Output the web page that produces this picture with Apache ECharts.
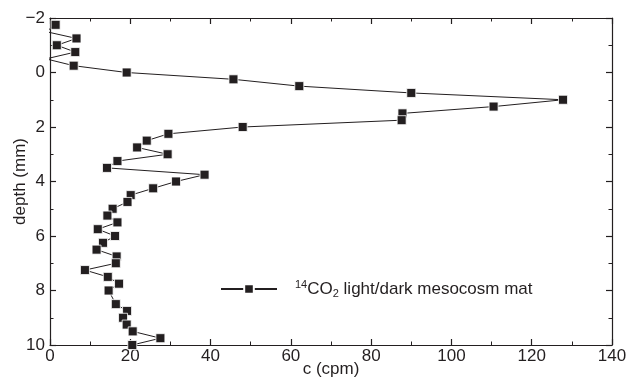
<!DOCTYPE html>
<html>
<head>
<meta charset="utf-8">
<script src="https://cdn.jsdelivr.net/npm/echarts@6/dist/echarts.min.js"></script>
<style>
  html, body { margin: 0; padding: 0; background: #fff; }
  #chart { width: 630px; height: 381px; }
</style>
</head>
<body>
<div id="chart"></div>
<script>
// depth profile, 0.25 mm steps (8.25 mm not measured)
const depth = [-1.75, -1.5, -1.25, -1.0, -0.75, -0.5, -0.25, 0, 0.25, 0.5, 0.75, 1.0, 1.25, 1.5, 1.75, 2.0,
  2.25, 2.5, 2.75, 3.0, 3.25, 3.5, 3.75, 4.0, 4.25, 4.5, 4.75, 5.0, 5.25, 5.5, 5.75, 6.0, 6.25, 6.5,
  6.75, 7.0, 7.25, 7.5, 7.75, 8.0, 8.5, 8.75, 9.0, 9.25, 9.5, 9.75, 10.0];
const cpm = [1.4, -1, 6.6, 1.7, 6.3, -1, 5.9, 19.1, 45.7, 62.1, 90.0, 127.8, 110.5, 87.8, 87.6, 48.0,
  29.5, 24.1, 21.7, 29.3, 16.8, 14.2, 38.5, 31.4, 25.7, 20.1, 19.3, 15.6, 14.3, 16.8, 11.9, 16.2, 13.2, 11.6,
  16.6, 16.4, 8.7, 14.4, 17.2, 14.6, 16.4, 19.2, 18.2, 19.1, 20.6, 27.5, 20.5];
const seriesName = "14CO2 light/dark mesocosm mat";

const ink = "#231f20";
const font = "Liberation Sans";

const chart = echarts.init(document.getElementById("chart"));

const tickBase = {
  axisLine: { show: true, onZero: false, lineStyle: { color: ink, width: 1.2 } },
  axisTick: { show: true, inside: true, length: 6, lineStyle: { color: ink, width: 1.2 } },
  minorTick: { show: true, splitNumber: 2, length: 3.5, lineStyle: { color: ink, width: 1 } },
  splitLine: { show: false },
  minorSplitLine: { show: false },
};

chart.setOption({
  animation: false,
  backgroundColor: "#fff",
  textStyle: { fontFamily: font, color: ink },
  grid: { left: 50, right: 18, top: 18, bottom: 36, outerBoundsMode: "none" },
  legend: {
    left: 215,
    top: 274,
    itemWidth: 56,
    itemHeight: 12,
    data: [seriesName],
    formatter: () => "{sup|14}CO{sub|2} light/dark mesocosm mat",
    textStyle: {
      fontFamily: font, fontSize: 17, color: ink, padding: [0, 0, 0, 13],
      rich: {
        sup: { fontSize: 11, fontFamily: font, color: ink, padding: [0, 0, 9, 0] },
        sub: { fontSize: 11, fontFamily: font, color: ink, padding: [10, 0, 0, 0] },
      },
    },
  },
  xAxis: [
    {
      type: "value", position: "bottom", min: 0, max: 140, interval: 20,
      name: "c (cpm)", nameLocation: "middle", nameGap: 16, nameMoveOverlap: false,
      nameTextStyle: { fontFamily: font, fontSize: 17, color: ink },
      axisLabel: { fontFamily: font, fontSize: 17, color: ink, margin: 3 },
      ...tickBase,
    },
    {
      type: "value", position: "top", min: 0, max: 140, interval: 20,
      axisLabel: { show: false },
      ...tickBase,
    },
  ],
  yAxis: [
    {
      type: "value", position: "left", inverse: true, min: -2, max: 10, interval: 2,
      name: "depth (mm)", nameLocation: "middle", nameGap: 21, nameMoveOverlap: false,
      nameTextStyle: { fontFamily: font, fontSize: 17, color: ink },
      axisLabel: {
        fontFamily: font, fontSize: 17, color: ink, margin: 5,
        formatter: (v) => (v < 0 ? "\u2212" + Math.abs(v) : String(v)),
      },
      ...tickBase,
    },
    {
      type: "value", position: "right", inverse: true, min: -2, max: 10, interval: 2,
      axisLabel: { show: false },
      ...tickBase,
    },
  ],
  series: [
    {
      name: seriesName,
      type: "line",
      clip: true,
      data: depth.map((d, i) => [cpm[i], d]),
      symbol: "rect",
      symbolSize: 9,
      lineStyle: { color: ink, width: 1 },
      itemStyle: { color: ink, borderColor: "#fff", borderWidth: 0.8 },
    },
  ],
});
</script>
</body>
</html>
